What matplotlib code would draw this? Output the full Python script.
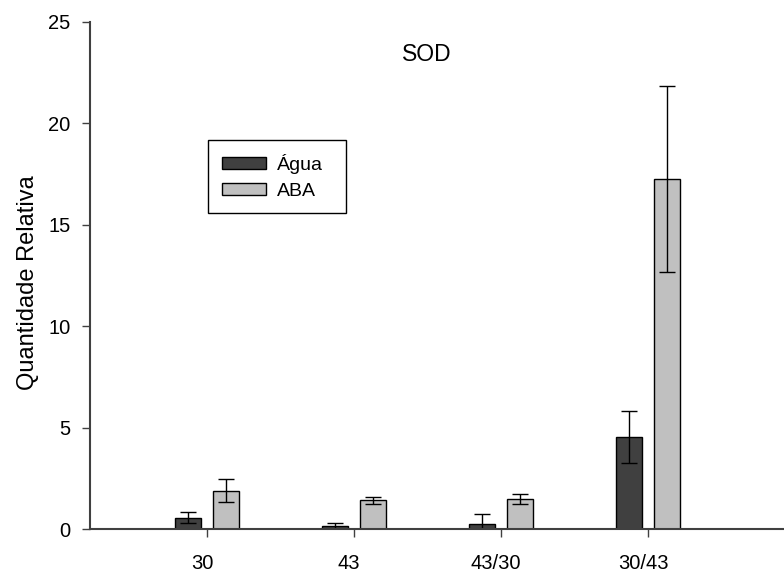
import matplotlib
matplotlib.use('Agg')
import matplotlib.pyplot as plt
import matplotlib.transforms as mtransforms
import numpy as np

plt.rcParams['font.family'] = ['Liberation Sans', 'DejaVu Sans']

categories = ['30', '43', '43/30', '30/43']
agua = [0.57, 0.16, 0.25, 4.57]
agua_err = [0.28, 0.13, 0.52, 1.28]
aba = [1.90, 1.43, 1.48, 17.27]
aba_err = [0.57, 0.18, 0.25, 4.57]

fig = plt.figure(figsize=(7.84, 5.73), dpi=100)
ax = fig.add_axes([90/784, 43.7/573, 694/784, 507.3/573])

x = np.arange(len(categories))
width = 0.174
offset = 0.131
ax.bar(x - offset, agua, width, color='#404040', edgecolor='black', linewidth=1, label='Água')
ax.bar(x + offset, aba, width, color='#c0c0c0', edgecolor='black', linewidth=1, label='ABA')
ax.errorbar(x - offset, agua, yerr=agua_err, fmt='none', ecolor='black', elinewidth=1, capsize=5.8, capthick=1)
ax.errorbar(x + offset, aba, yerr=aba_err, fmt='none', ecolor='black', elinewidth=1, capsize=5.8, capthick=1)

ax.set_xlim(-0.796, 3.925)
ax.set_ylim(0, 25)
ax.set_yticks([0, 5, 10, 15, 20, 25])
ax.set_xticks(x)
ax.set_xticklabels(categories)

for side in ['top', 'right']:
    ax.spines[side].set_visible(False)
for side in ['left', 'bottom']:
    ax.spines[side].set_color('#404040')
    ax.spines[side].set_linewidth(1.5)
ax.tick_params(axis='both', direction='out', length=6, width=1, color='#404040', labelsize=14.5)
ax.tick_params(axis='y', pad=8)
ax.tick_params(axis='x', pad=12)

# tick labels sit a little left of the ticks in the original
shift = mtransforms.ScaledTranslation(-5/100, 0, fig.dpi_scale_trans)
for lbl in ax.get_xticklabels():
    lbl.set_transform(lbl.get_transform() + shift)

ax.set_ylabel('Quantidade Relativa', fontsize=17)
ax.yaxis.set_label_coords(-0.073, 0.4855)
ax.text(0.486, 0.935, 'SOD', transform=ax.transAxes, fontsize=16.5, ha='center', va='center')

leg = ax.legend(loc='upper left', bbox_to_anchor=(0.170, 0.667, 0.199, 0.1), mode='expand',
                fontsize=14, handlelength=2.3, handleheight=0.62, handletextpad=0.57,
                borderpad=0.7, labelspacing=0.45, borderaxespad=0, fancybox=False, framealpha=1)
leg.get_frame().set_edgecolor('black')
leg.get_frame().set_linewidth(1)

plt.savefig('out.png', dpi=100)
plt.close()
